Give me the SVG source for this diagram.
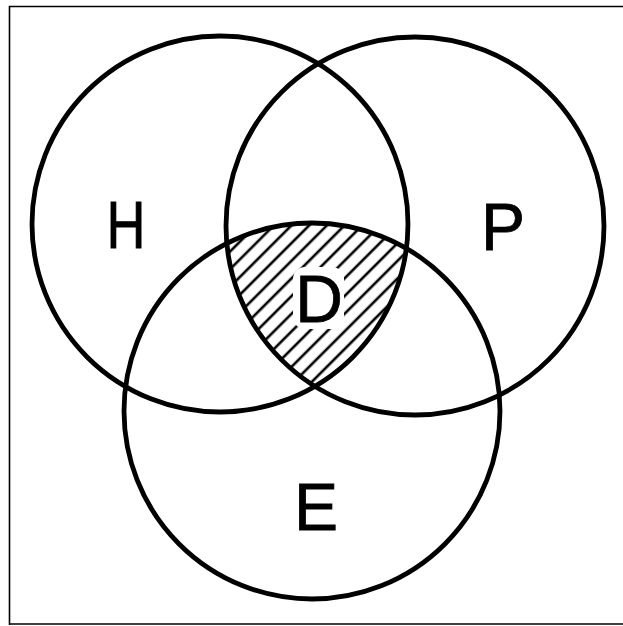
<svg xmlns="http://www.w3.org/2000/svg" width="623" height="626" viewBox="0 0 623 626">
  <style>
    .ring { fill: none; stroke: #000; stroke-width: 4.8; }
    .lbl { font-family: "Liberation Sans", Arial, sans-serif; font-size: 66px; fill: #000; stroke: #000; stroke-width: 0.8; text-anchor: middle; }
    .frame { stroke: #000; stroke-width: 1.6; fill: none; }
  </style>
  <defs>
    <pattern id="hatch" width="12.5" height="12.5" patternUnits="userSpaceOnUse" patternTransform="rotate(45)">
      <line x1="3" y1="0" x2="3" y2="12.5" stroke="#000" stroke-width="2.6"/>
    </pattern>
    <clipPath id="clipH"><circle cx="220" cy="224" r="188"/></clipPath>
    <clipPath id="clipP"><circle cx="415" cy="226" r="189"/></clipPath>
    <clipPath id="clipE"><circle cx="312" cy="411" r="188"/></clipPath>
  </defs>
  <rect width="623" height="626" fill="#fff"/>
  <g id="frame">
    <path class="frame" d="M9.5 625 V6.5 H623 M9 624 H623"/>
  </g>
  <g id="D-region">
    <g clip-path="url(#clipH)">
      <g clip-path="url(#clipP)">
        <rect x="100" y="100" width="400" height="400" fill="url(#hatch)" clip-path="url(#clipE)"/>
      </g>
    </g>
    <rect x="293" y="267" width="51" height="62" rx="12" fill="#fff"/>
  </g>
  <g id="H">
    <circle class="ring" cx="220" cy="224" r="188"/>
    <text class="lbl" x="126" y="248" textLength="39" lengthAdjust="spacingAndGlyphs">H</text>
  </g>
  <g id="P">
    <circle class="ring" cx="415" cy="226" r="189"/>
    <text class="lbl" x="503" y="250">P</text>
  </g>
  <g id="E">
    <circle class="ring" cx="312" cy="411" r="188"/>
    <text class="lbl" x="316" y="530">E</text>
  </g>
  <g id="D">
    <text class="lbl" x="319" y="322">D</text>
  </g>
</svg>
